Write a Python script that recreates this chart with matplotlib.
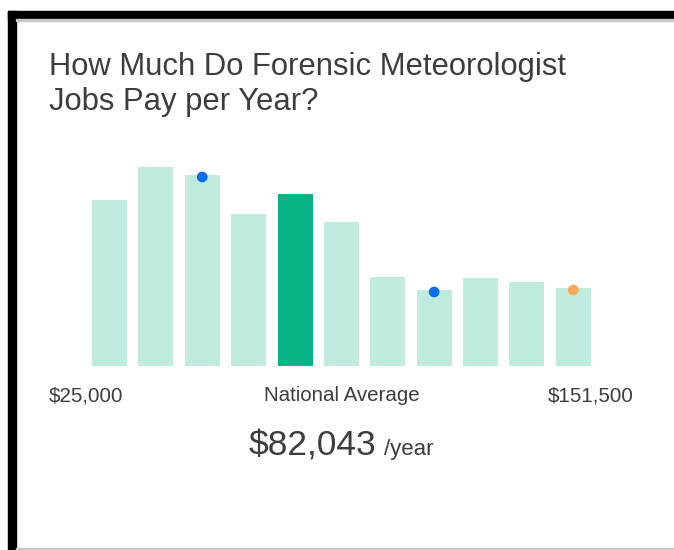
import matplotlib
matplotlib.use("Agg")
import matplotlib.pyplot as plt
from matplotlib.patches import Rectangle

# salary histogram (relative bar heights)
heights = [166, 199, 191, 152, 172, 144, 89, 76, 88, 84, 78]
highlight = 4  # national average bar
dot_bars = [2, 7, 10]
dot_values = [189, 74, 76]
dot_colors = ["#0b6fe3", "#0b6fe3", "#fca95a"]

title_lines = ["How Much Do Forensic Meteorologist", "Jobs Pay per Year?"]
low_label = "$25,000"
mid_label = "National Average"
high_label = "$151,500"
avg_value = "$82,043"
avg_unit = "/year"

W, H = 674, 550
plt.rcParams['font.family'] = ['Liberation Sans', 'DejaVu Sans']

fig = plt.figure(figsize=(W / 100, H / 100), dpi=100)
fig.patch.set_facecolor("white")


def px(x, y):
    return x / W, 1 - y / H


# frame around the card
fig.patches.append(Rectangle(px(8, 550), 8 / W, 539 / H, transform=fig.transFigure,
                             color="black", zorder=5))
fig.patches.append(Rectangle(px(8, 19), (W - 8) / W, 8 / H, transform=fig.transFigure,
                             color="black", zorder=5))
fig.patches.append(Rectangle(px(16, 20.5), (W - 16) / W, 1.5 / H, transform=fig.transFigure,
                             color="#c8c8c8", zorder=5))
fig.patches.append(Rectangle(px(16, 550), (W - 16) / W, 2 / H, transform=fig.transFigure,
                             color="#c8c8c8", zorder=5))

# bars
pitch = 46.38
c0 = 109.5
ax_l, ax_r, ax_t, ax_b = 80, 600, 150, 366
ax = fig.add_axes([ax_l / W, 1 - ax_b / H, (ax_r - ax_l) / W, (ax_b - ax_t) / H])
ax.set_xlim((ax_l - c0) / pitch, (ax_r - c0) / pitch)
ax.set_ylim(0, ax_b - ax_t)
ax.axis("off")

xs = range(len(heights))
colors = ["#08b386" if i == highlight else "#c2ebe0" for i in xs]
ax.bar(xs, heights, width=35 / pitch, color=colors, edgecolor="none")
ax.scatter(dot_bars, dot_values, s=60, c=dot_colors, zorder=3, edgecolors="none")

txt = "#3d3d3d"
fig.text(*px(49, 75), title_lines[0], fontsize=22.3, color=txt, va="baseline", ha="left")
fig.text(*px(49, 110), title_lines[1], fontsize=22.3, color=txt, va="baseline", ha="left")

fig.text(*px(49, 401), low_label, fontsize=14.8, color=txt, va="baseline", ha="left")
fig.text(*px(342, 401), mid_label, fontsize=14.8, color=txt, va="baseline", ha="center")
fig.text(*px(634, 401), high_label, fontsize=14.8, color=txt, va="baseline", ha="right")

fig.text(*px(376, 455), avg_value, fontsize=25.5, color=txt, va="baseline", ha="right")
fig.text(*px(384, 455), avg_unit, fontsize=16, color=txt, va="baseline", ha="left")

fig.savefig("out.png", dpi=100, facecolor="white")
